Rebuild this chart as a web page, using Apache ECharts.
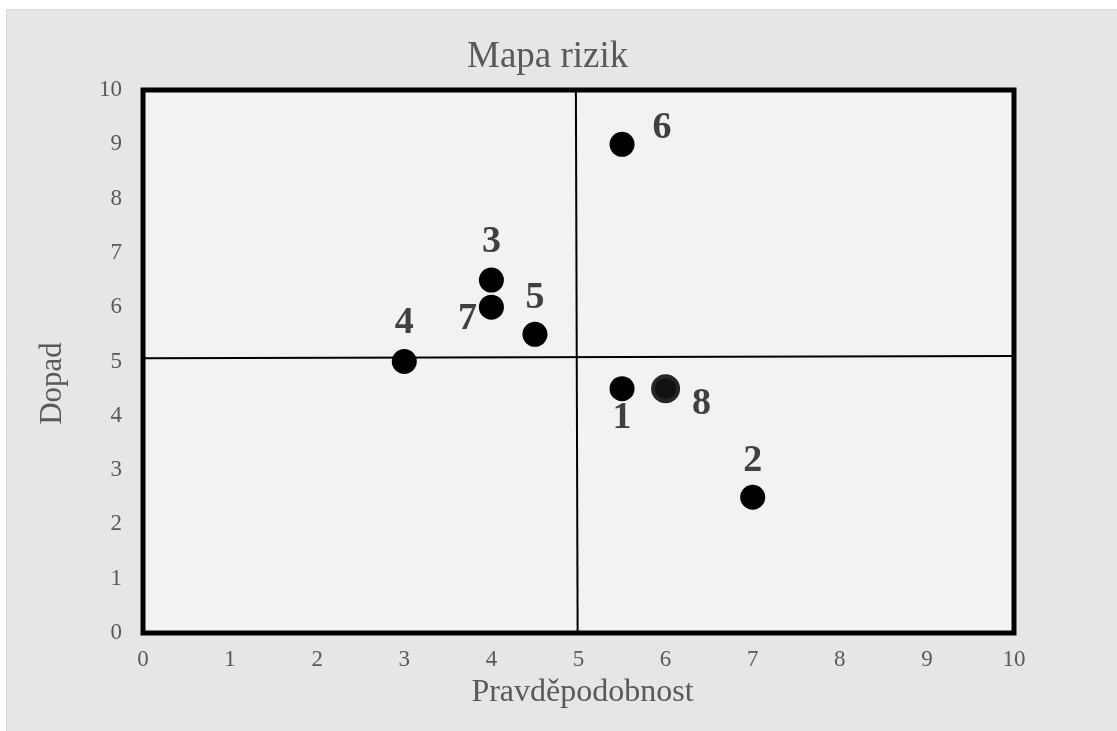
<!DOCTYPE html>
<html>
<head>
<meta charset="utf-8">
<title>Mapa rizik</title>
<script src="https://cdn.jsdelivr.net/npm/echarts@6/dist/echarts.min.js"></script>
<style>
  html, body { margin: 0; padding: 0; background: #ffffff; }
  #chart { width: 1117px; height: 731px; }
</style>
</head>
<body>
<div id="chart"></div>
<script>
// rizika: cislo, pravdepodobnost, dopad
var riskNames = ['1', '2', '3', '4', '5', '6', '7', '8']
var probability = [5.5, 7, 4, 3, 4.5, 5.5, 4, 6]
var impact = [4.5, 2.5, 6.5, 5, 5.5, 9, 6, 4.5]
// deleni mapy na kvadranty
var hLine = [[0, 5.06], [10, 5.1]]
var vLine = [[4.97, 10], [4.99, 0]]
var axisTicks = [0, 1, 2, 3, 4, 5, 6, 7, 8, 9, 10]

// posun popisku vuci bodu
var labelPlace = {
  '1': [0, 30],
  '2': [0, -36],
  '3': [0, -38],
  '4': [0, -38],
  '5': [0, -36],
  '6': [40, -16],
  '7': [-24, 12],
  '8': [36, 16]
}

var serif = '"Liberation Serif", "DejaVu Serif", serif'

var points = riskNames.map(function (n, i) {
  var isEight = n === '8'
  return {
    name: n,
    value: [probability[i], impact[i]],
    itemStyle: isEight
      ? { color: '#111111', borderColor: '#262626', borderWidth: 4, opacity: 1 }
      : { color: '#000000', opacity: 1 },
    label: {
      show: true,
      position: 'inside',
      offset: labelPlace[n],
      formatter: n,
      color: '#404040',
      fontFamily: serif,
      fontWeight: 'bold',
      fontSize: 38
    }
  }
})

var chart = echarts.init(document.getElementById('chart'))
var option = {
  backgroundColor: '#ffffff',
  animation: false,
  graphic: [{
    type: 'rect',
    z: -10,
    shape: { x: 6.5, y: 9.5, width: 1120, height: 730 },
    style: { fill: '#e6e6e6', stroke: '#d9d9d9', lineWidth: 1 }
  }],
  title: {
    text: 'Mapa rizik',
    left: 462,
    top: 34,
    textStyle: { fontFamily: serif, fontWeight: 'normal', fontSize: 37, color: '#595959' }
  },
  grid: {
    left: 143,
    right: 103,
    top: 90,
    bottom: 98,
    show: true,
    backgroundColor: '#f2f2f2',
    borderColor: '#000000',
    borderWidth: 5
  },
  xAxis: {
    type: 'value',
    min: axisTicks[0],
    max: axisTicks[axisTicks.length - 1],
    interval: 1,
    name: 'Pravděpodobnost',
    nameLocation: 'middle',
    nameGap: 44,
    nameTextStyle: { fontFamily: serif, fontSize: 32, color: '#595959', padding: [0, 0, 0, 8] },
    axisLine: { show: false },
    axisTick: { show: false },
    splitLine: { show: false },
    axisLabel: { fontFamily: serif, fontSize: 23, color: '#595959', margin: 15 }
  },
  yAxis: {
    type: 'value',
    min: axisTicks[0],
    max: axisTicks[axisTicks.length - 1],
    interval: 1,
    name: 'Dopad',
    nameLocation: 'middle',
    nameGap: 75,
    nameTextStyle: { fontFamily: serif, fontSize: 31, color: '#595959', padding: [0, 44, 0, 0] },
    axisLine: { show: false },
    axisTick: { show: false },
    splitLine: { show: false },
    axisLabel: { fontFamily: serif, fontSize: 23, color: '#595959', margin: 21 }
  },
  series: [
    {
      type: 'line',
      data: hLine,
      symbol: 'none',
      silent: true,
      lineStyle: { color: '#000000', width: 2 },
      z: 1
    },
    {
      type: 'line',
      data: vLine,
      symbol: 'none',
      silent: true,
      lineStyle: { color: '#000000', width: 2 },
      z: 1
    },
    {
      type: 'scatter',
      symbolSize: 25,
      data: points,
      z: 3
    }
  ]
}
chart.setOption(option)
</script>
</body>
</html>
